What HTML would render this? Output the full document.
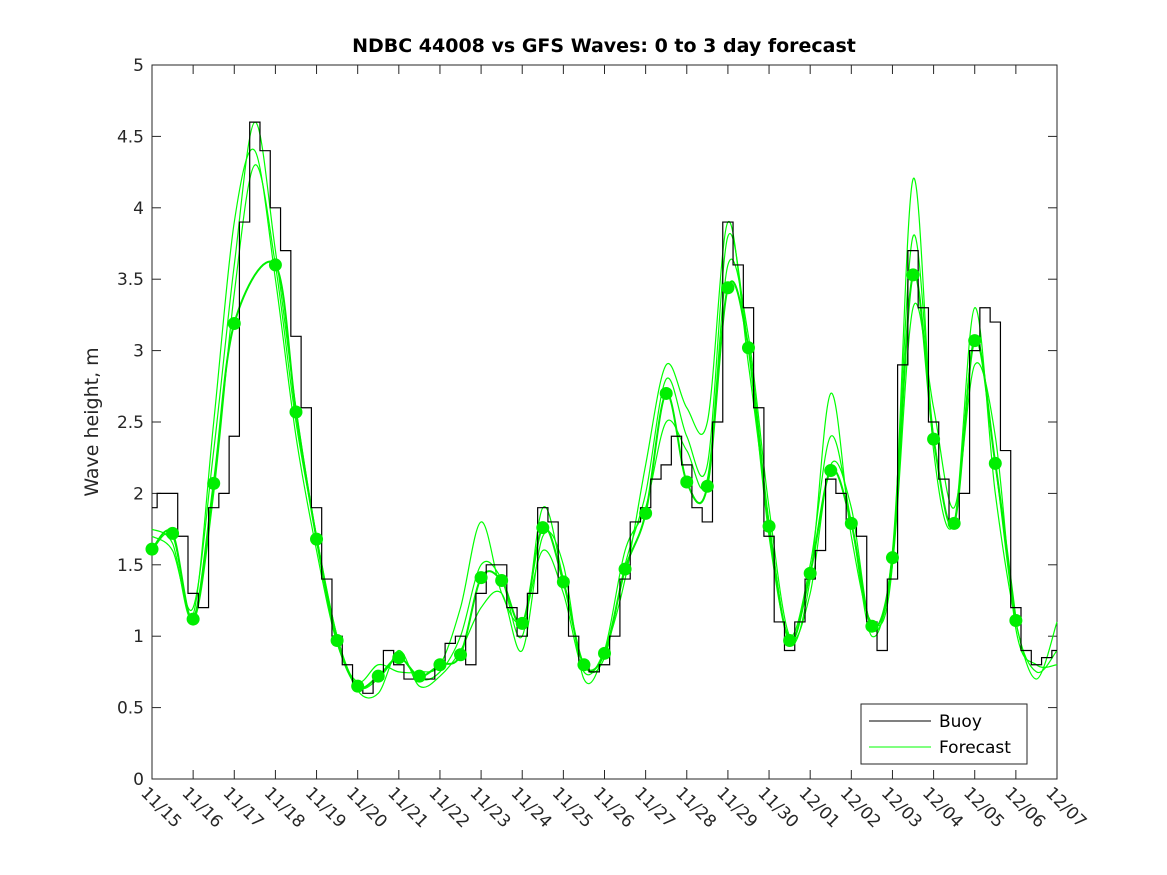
<!DOCTYPE html>
<html><head><meta charset="utf-8"><style>
body{margin:0;background:#fff}
svg{display:block;font-family:"DejaVu Sans","Liberation Sans",sans-serif}
</style></head><body>
<svg id="c" width="1167" height="875"></svg>
<script>
const xLabels=["11/15","11/16","11/17","11/18","11/19","11/20","11/21","11/22","11/23","11/24","11/25","11/26","11/27","11/28","11/29","11/30","12/01","12/02","12/03","12/04","12/05","12/06","12/07"];
const yTicks=[0,0.5,1,1.5,2,2.5,3,3.5,4,4.5,5];
const buoy=[1.9,2.0,2.0,1.7,1.3,1.2,1.9,2.0,2.4,3.9,4.6,4.4,4.0,3.7,3.1,2.6,1.9,1.4,1.0,0.8,0.65,0.6,0.7,0.9,0.8,0.7,0.7,0.7,0.8,0.95,1.0,0.8,1.3,1.5,1.5,1.2,1.0,1.3,1.9,1.8,1.4,1.0,0.8,0.75,0.8,1.0,1.4,1.8,1.9,2.1,2.2,2.4,2.2,1.9,1.8,2.5,3.9,3.6,3.3,2.6,1.7,1.1,0.9,1.1,1.4,1.6,2.1,2.0,1.8,1.7,1.1,0.9,1.4,2.9,3.7,3.3,2.5,2.1,1.8,2.0,3.0,3.3,3.2,2.3,1.2,0.9,0.8,0.85,0.9];
const dotDays=[0,0.5,1,1.5,2,3,3.5,4,4.5,5,5.5,6,6.5,7,7.5,8,8.5,9,9.5,10,10.5,11,11.5,12,12.5,13,13.5,14,14.5,15,15.5,16,16.5,17,17.5,18,18.5,19,19.5,20,20.5,21];
const dotVals=[1.61,1.72,1.12,2.07,3.19,3.6,2.57,1.68,0.97,0.65,0.72,0.85,0.72,0.8,0.87,1.41,1.39,1.09,1.76,1.38,0.8,0.88,1.47,1.86,2.7,2.08,2.05,3.44,3.02,1.77,0.97,1.44,2.16,1.79,1.07,1.55,3.53,2.38,1.79,3.07,2.21,1.11];
const fcA=[1.7,1.6,1.2,2.3,3.6,4.6,3.7,2.6,1.7,1.0,0.65,0.7,0.85,0.7,0.75,1.0,1.5,1.4,1.0,1.9,1.4,0.8,0.85,1.5,2.0,2.8,2.4,2.2,3.8,3.0,1.7,1.0,1.5,2.4,1.8,1.0,1.6,3.8,2.4,1.8,3.1,2.2,1.1,0.75,0.9];
const fcB=[1.75,1.65,1.15,2.5,3.9,4.4,3.5,2.4,1.6,0.95,0.68,0.8,0.75,0.75,0.8,1.2,1.8,1.3,1.1,1.6,1.3,0.75,0.9,1.4,2.2,2.9,2.6,2.5,3.9,2.9,1.8,0.95,1.4,2.7,1.7,1.1,1.5,4.2,2.3,1.8,3.3,2.0,1.1,0.7,1.1];
const fcC=[1.6,1.7,1.1,2.0,3.4,4.3,3.6,2.5,1.7,1.0,0.62,0.6,0.9,0.65,0.72,0.9,1.2,1.3,0.9,1.7,1.5,0.7,0.9,1.6,1.9,2.5,2.3,2.1,3.6,3.1,1.9,1.0,1.3,2.2,1.9,1.05,1.5,3.3,2.6,1.9,2.9,2.4,1.05,0.8,0.8];

const L=152,R=1057,T=65,B=779;
const X=d=>L+(R-L)*d/22, Y=v=>B-(B-T)*v/5;
const svg=document.getElementById('c'),NS='http://www.w3.org/2000/svg';
function mk(t,a,p){const e=document.createElementNS(NS,t);for(const k in a)e.setAttribute(k,a[k]);(p||svg).appendChild(e);return e;}

const frame=mk('rect',{x:L,y:T,width:R-L,height:B-T,fill:'#fff',stroke:'#262626','stroke-width':1});



yTicks.forEach(v=>{
  const y=Y(v);
  mk('line',{x1:L,x2:L+9,y1:y,y2:y,stroke:'#262626'});
  mk('line',{x1:R,x2:R-9,y1:y,y2:y,stroke:'#262626'});
  const t=mk('text',{x:L-8,y:y+6,'text-anchor':'end','font-size':17,fill:'#262626'});
  t.textContent=String(v);
  
  
});
xLabels.forEach((s,i)=>{
  const x=X(i);
  mk('line',{x1:x,x2:x,y1:B,y2:B-9,stroke:'#262626'});
  mk('line',{x1:x,x2:x,y1:T,y2:T+9,stroke:'#262626'});
  const t=mk('text',{x:0,y:0,transform:`translate(${x-12},${B+15}) rotate(45)`,'font-size':17,fill:'#262626'});
  t.textContent=s;
  
  
});

function smooth(pts){
  let d=`M${pts[0][0]},${pts[0][1]}`;
  for(let i=0;i<pts.length-1;i++){
    const p0=pts[Math.max(0,i-1)],p1=pts[i],p2=pts[i+1],p3=pts[Math.min(pts.length-1,i+2)];
    d+=` C${p1[0]+(p2[0]-p0[0])/6},${p1[1]+(p2[1]-p0[1])/6} ${p2[0]-(p3[0]-p1[0])/6},${p2[1]-(p3[1]-p1[1])/6} ${p2[0]},${p2[1]}`;
  }
  return d;
}
[fcA,fcB,fcC].forEach((arr,k)=>{
  const p=mk('path',{d:smooth(arr.map((v,i)=>[X(i*0.5),Y(v)])),fill:'none',stroke:'#00ff00','stroke-width':1.2});
  
  
});
const fd=mk('path',{d:smooth(dotDays.map((d,i)=>[X(d),Y(dotVals[i])])),fill:'none',stroke:'#00ee00','stroke-width':2});



let bd='';
const hs=X(0.125)-X(0);
buoy.forEach((v,i)=>{const x=X(i*0.25),y=Y(v);bd+=(i?`H${x-hs}V${y}H${Math.min(R,x+hs)}`:`M${x},${y}H${x+hs}`);});
const bp=mk('path',{d:bd,fill:'none',stroke:'#000','stroke-width':1.2});



dotDays.forEach((d,i)=>{
  const c=mk('circle',{cx:X(d),cy:Y(dotVals[i]),r:6.5,fill:'#00ee00'});
  
  
});

const title=mk('text',{x:604,y:52,'text-anchor':'middle','font-size':19,'font-weight':'bold',fill:'#000'});
title.textContent='NDBC 44008 vs GFS Waves: 0 to 3 day forecast';


const yl=mk('text',{x:0,y:0,transform:'translate(98,422) rotate(-90)','text-anchor':'middle','font-size':19,fill:'#262626'});
yl.textContent='Wave height, m';



const lg=mk('g',{});


mk('rect',{x:861,y:704,width:166,height:60,fill:'#fff',stroke:'#262626'},lg);
mk('line',{x1:869,x2:931,y1:721,y2:721,stroke:'#000'},lg);
mk('line',{x1:869,x2:931,y1:747,y2:747,stroke:'#00ff00'},lg);
const l1=mk('text',{x:939,y:727,'font-size':17,fill:'#000'},lg);l1.textContent='Buoy';


const l2=mk('text',{x:939,y:753,'font-size':17,fill:'#000'},lg);l2.textContent='Forecast';


</script>
</body></html>
